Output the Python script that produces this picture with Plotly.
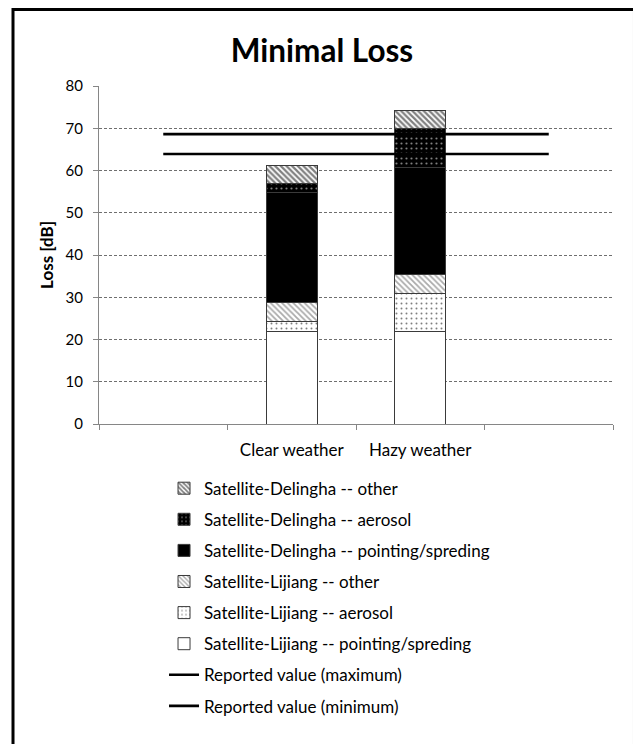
import plotly.graph_objects as go

# ---- data ----
categories = ["", "Clear weather", "Hazy weather", ""]
lijiang_pointing = [None, 22.0, 22.0, None]
lijiang_aerosol = [None, 2.2, 8.8, None]
lijiang_other = [None, 4.6, 4.5, None]
delingha_pointing = [None, 25.9, 25.5, None]
delingha_aerosol = [None, 2.3, 9.2, None]
delingha_other = [None, 4.3, 4.3, None]
reported_max = [68.6, 68.6, 68.6, 68.6]
reported_min = [63.9, 63.9, 63.9, 63.9]
y_ticks = [0, 10, 20, 30, 40, 50, 60, 70, 80]

x_pos = list(range(len(categories)))
label_pos = [i for i, c in enumerate(categories) if c]
label_txt = [c for c in categories if c]
boundaries = [i - 0.5 for i in range(len(categories) + 1)]

FONT = "Lato"
OUTLINE = dict(color="#3a3a3a", width=1)

fig = go.Figure()

bar_specs = [
    ("Satellite-Lijiang -- pointing/spreding", lijiang_pointing,
     dict(color="white", line=OUTLINE), 6),
    ("Satellite-Lijiang -- aerosol", lijiang_aerosol,
     dict(color="white", line=OUTLINE,
          pattern=dict(shape=".", fgcolor="black", bgcolor="white", size=5, solidity=0.12)), 5),
    ("Satellite-Lijiang -- other", lijiang_other,
     dict(color="white", line=OUTLINE,
          pattern=dict(shape="\\", fgcolor="#555555", bgcolor="white", size=4, solidity=0.45)), 4),
    ("Satellite-Delingha -- pointing/spreding", delingha_pointing,
     dict(color="black", line=OUTLINE), 3),
    ("Satellite-Delingha -- aerosol", delingha_aerosol,
     dict(color="black", line=OUTLINE,
          pattern=dict(shape=".", fgcolor="white", bgcolor="black", size=5, solidity=0.15)), 2),
    ("Satellite-Delingha -- other", delingha_other,
     dict(color="white", line=OUTLINE,
          pattern=dict(shape="\\", fgcolor="black", bgcolor="white", size=4, solidity=0.55)), 1),
]

for name, vals, marker, rank in bar_specs:
    fig.add_trace(go.Bar(
        x=x_pos, y=vals, name=name, marker=marker,
        legendgroup=name, legendrank=rank,
    ))

fig.add_trace(go.Scatter(
    x=x_pos, y=reported_max, mode="lines", name="Reported value (maximum)",
    line=dict(color="black", width=2.6), legendgroup="max", legendrank=7,
))
fig.add_trace(go.Scatter(
    x=x_pos, y=reported_min, mode="lines", name="Reported value (minimum)",
    line=dict(color="black", width=2.6), legendgroup="min", legendrank=8,
))

fig.update_layout(
    width=633, height=736,
    margin=dict(l=91, r=28, t=78, b=320),
    paper_bgcolor="white", plot_bgcolor="white",
    barmode="stack", bargap=0.6,
    font=dict(family=FONT, size=15, color="black"),
    title=dict(text="<b>Minimal Loss</b>", x=0.496, xanchor="center",
               y=0.942, yanchor="middle", font=dict(family=FONT, size=31.5, color="black")),
    showlegend=True,
    legend=dict(
        x=0.1265, xanchor="left", y=-0.138, yanchor="top",
        traceorder="grouped", tracegroupgap=6,
        font=dict(family=FONT, size=17, color="black"),
        bgcolor="rgba(0,0,0,0)",
    ),
    xaxis=dict(
        range=[boundaries[0], boundaries[-1]],
        tickvals=label_pos, ticktext=label_txt, ticks="",
        ticklabelstandoff=11,
        minor=dict(tickvals=boundaries, ticks="outside", ticklen=5, tickcolor="#868686",
                   showgrid=False),
        showline=True, linecolor="#868686", linewidth=1,
        showgrid=False, zeroline=False,
        tickfont=dict(family=FONT, size=17, color="black"),
        fixedrange=True,
    ),
    yaxis=dict(
        range=[0, 80], tickvals=y_ticks, ticks="outside", ticklen=5,
        tickcolor="#868686", showline=True, linecolor="#868686", linewidth=1,
        showgrid=True, gridcolor="#6f6f6f", griddash="3px,2px", gridwidth=1,
        zeroline=False, ticklabelstandoff=7,
        tickfont=dict(family=FONT, size=15, color="black"),
        title=dict(text="<b>Loss [dB]</b>", font=dict(family=FONT, size=17, color="black"),
                   standoff=7),
    ),
    shapes=[dict(type="rect", xref="paper", yref="paper",
                 x0=-0.1673, x1=1.0418, y0=-1.05, y1=1.2263,
                 line=dict(color="black", width=3), fillcolor="rgba(0,0,0,0)", layer="above")],
)

fig.write_html("out.html")
